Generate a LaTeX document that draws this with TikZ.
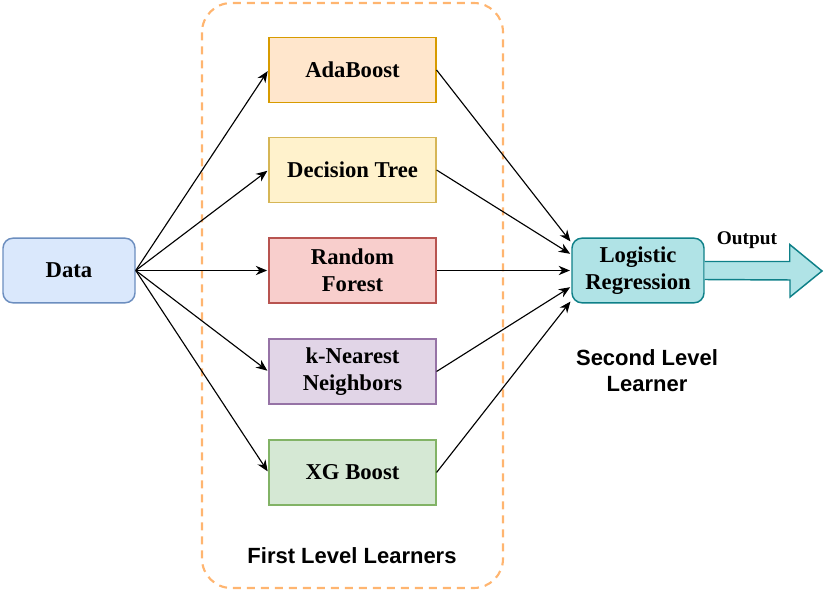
\documentclass[tikz,border=0pt]{standalone}
\usepackage{fontspec}
\setmainfont{Liberation Serif}
\setsansfont{Liberation Sans}
\usepackage{tikz}
\usetikzlibrary{positioning, calc}
\usetikzlibrary{arrows.meta}

\definecolor{dataFill}{HTML}{DAE8FC}
\definecolor{dataLine}{HTML}{6C8EBF}
\definecolor{adaFill}{HTML}{FFE6CC}
\definecolor{adaLine}{HTML}{D79B00}
\definecolor{treeFill}{HTML}{FFF2CC}
\definecolor{treeLine}{HTML}{D6B656}
\definecolor{forestFill}{HTML}{F8CECC}
\definecolor{forestLine}{HTML}{B85450}
\definecolor{knnFill}{HTML}{E1D5E7}
\definecolor{knnLine}{HTML}{9673A6}
\definecolor{xgFill}{HTML}{D5E8D4}
\definecolor{xgLine}{HTML}{82B366}
\definecolor{lrFill}{HTML}{B0E3E6}
\definecolor{lrLine}{HTML}{0E8088}
\definecolor{groupLine}{HTML}{FFB570}

\begin{document}
\begin{tikzpicture}[x=0.75pt,y=-0.75pt,->,>={Stealth[length=8.5pt,width=7pt]},draw=black!100]
	\def \learnerx{352.5}
	\tikzstyle{l-node}=[rectangle,draw,line width=1.1pt,minimum width=125pt,minimum height=48.5pt,inner sep=0pt,align=center,font=\fontsize{17}{20}\selectfont\bfseries]
	\tikzstyle{r-node}=[l-node,rounded corners=7.5pt,minimum width=99pt]
	\tikzstyle{annot}=[align=center,font=\sffamily\bfseries\fontsize{16.5}{19.5}\selectfont]
	\tikzstyle{link}=[line width=0.85pt,shorten >=1pt]
	\useasboundingbox (0,0) rectangle (824,591);

	% first level group
	\draw[-,groupLine,line width=1.6pt,dash pattern=on 6pt off 4.5pt,rounded corners=22pt] (202,3) rectangle (503,588);
	\node[annot] (first-label) at (352,556) {First Level Learners};

	% input
	\node[r-node,fill=dataFill,draw=dataLine] (data) at (69,270.5) {Data};

	% first level learners
	\node[l-node,fill=adaFill,draw=adaLine] (ada) at (\learnerx,70) {AdaBoost};
	\node[l-node,fill=treeFill,draw=treeLine] (tree) at (\learnerx,170) {Decision Tree};
	\node[l-node,fill=forestFill,draw=forestLine] (forest) at (\learnerx,270.5) {Random\\Forest};
	\node[l-node,fill=knnFill,draw=knnLine] (knn) at (\learnerx,371.5) {k-Nearest\\Neighbors};
	\node[l-node,fill=xgFill,draw=xgLine] (xg) at (\learnerx,472.5) {XG Boost};

	% second level learner
	\node[r-node,fill=lrFill,draw=lrLine] (lr) at (638,270.5) {Logistic\\Regression};
	\node[annot] (second-label) at (647,371) {Second Level\\Learner};

	% data to learners
	\foreach \n in {ada,tree,forest,knn,xg}
		\draw[link] (data.east) -- (\n.west);

	% learners to logistic regression
	\draw[link] (ada.east) -- ($(lr.west)+(0,-28)$);
	\draw[link] (tree.east) -- ($(lr.west)+(0,-16)$);
	\draw[link] (forest.east) -- (lr.west);
	\draw[link] (knn.east) -- ($(lr.west)+(0,16)$);
	\draw[link] (xg.east) -- ($(lr.west)+(0,30)$);

	% output
	\draw[-,fill=lrFill,draw=lrLine,line width=1.1pt] ($(lr.east)+(0,-9)$) -- ++(85,0) -- ++(0,-17) -- (822,271) -- ++(-32,26) -- ++(0,-17) -- ($(lr.east)+(0,9)$);
	\node[font=\fontsize{14.5}{17}\selectfont\bfseries] (out-label) at (747,240) {Output};
\end{tikzpicture}
\end{document}
